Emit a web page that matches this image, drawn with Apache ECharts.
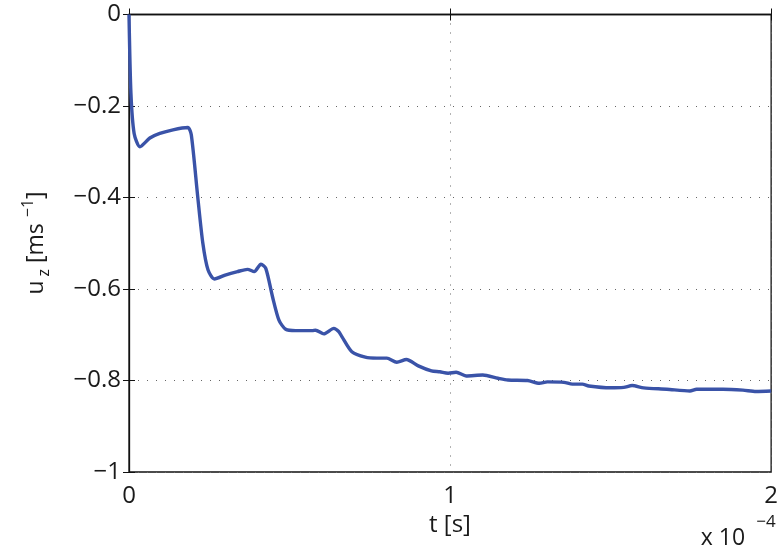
<!DOCTYPE html>
<html><head><meta charset="utf-8">
<script src="https://cdn.jsdelivr.net/npm/echarts@6/dist/echarts.min.js"></script>
<style>html,body{margin:0;padding:0;background:#fff}#c{width:781px;height:552px}</style>
</head><body><div id="c"></div>
<script>
// time in units of 1e-4 s
const timeE4 = [0, 0.006, 0.016, 0.034, 0.065, 0.096, 0.137, 0.183, 0.194, 0.214, 0.230, 0.246, 0.266, 0.302, 0.338, 0.369, 0.390, 0.411, 0.426, 0.447, 0.467, 0.488, 0.519, 0.571, 0.581, 0.607, 0.638, 0.653, 0.663, 0.694, 0.736, 0.772, 0.803, 0.834, 0.864, 0.901, 0.942, 0.968, 0.994, 1.019, 1.050, 1.102, 1.149, 1.180, 1.241, 1.278, 1.303, 1.355, 1.381, 1.412, 1.432, 1.499, 1.541, 1.567, 1.603, 1.675, 1.747, 1.768, 1.850, 1.912, 1.953, 2.0];
const uz = [0, -0.172, -0.26, -0.289, -0.27, -0.26, -0.252, -0.247, -0.263, -0.398, -0.5, -0.558, -0.578, -0.569, -0.562, -0.557, -0.562, -0.546, -0.555, -0.617, -0.668, -0.688, -0.691, -0.691, -0.690, -0.698, -0.686, -0.693, -0.704, -0.737, -0.749, -0.751, -0.751, -0.760, -0.754, -0.768, -0.779, -0.781, -0.784, -0.782, -0.79, -0.788, -0.795, -0.799, -0.800, -0.806, -0.803, -0.804, -0.808, -0.808, -0.812, -0.816, -0.815, -0.811, -0.816, -0.819, -0.823, -0.819, -0.819, -0.821, -0.824, -0.823];
const xTicks = [0, 1, 2];
const yTicks = [0, -0.2, -0.4, -0.6, -0.8, -1];

const font = 'Open Sans';
const txt = '#1a1a1a';
const fmtY = v => (Math.abs(v) < 1e-9 ? '0' : String(Math.round(v*10)/10).replace('-', '\u2212'));
const gridLine = {show: true, lineStyle: {color: '#666', width: 1, type: [1, 8]}};

const chart = echarts.init(document.getElementById('c'));
chart.setOption({
  animation: false,
  grid: {left: 129, right: 6, top: 14.5, bottom: 80, show: true, borderColor: '#111', borderWidth: 1.3, backgroundColor: 'transparent'},
  xAxis: [{
    type: 'value', min: xTicks[0], max: xTicks[xTicks.length-1], interval: 1,
    axisLine: {show: true, lineStyle: {color: '#111', width: 1.3}},
    axisTick: {show: true, inside: true, length: 6, lineStyle: {color: '#111'}},
    axisLabel: {fontFamily: font, fontSize: 24, color: txt, margin: 12, formatter: v => String(v)},
    splitLine: gridLine
  }, {
    type: 'value', position: 'top', min: 0, max: 2, interval: 1,
    axisLine: {show: false}, axisTick: {show: true, inside: true, length: 6, lineStyle: {color: '#111'}},
    axisLabel: {show: false}, splitLine: {show: false}
  }],
  yAxis: [{
    type: 'value', min: -1, max: 0, interval: 0.2,
    axisLine: {show: true, lineStyle: {color: '#111', width: 1.3}},
    axisTick: {show: true, inside: true, length: 6, lineStyle: {color: '#111'}},
    axisLabel: {fontFamily: font, fontSize: 24, color: txt, margin: 8, formatter: fmtY},
    splitLine: gridLine
  }, {
    type: 'value', position: 'right', min: -1, max: 0, interval: 0.2,
    axisLine: {show: false}, axisTick: {show: true, inside: true, length: 6, lineStyle: {color: '#111'}},
    axisLabel: {show: false}, splitLine: {show: false}
  }],
  series: [{
    type: 'line', xAxisIndex: 0, yAxisIndex: 0,
    data: timeE4.map((t, i) => [t, uz[i]]),
    showSymbol: false, smooth: 0.25,
    lineStyle: {color: '#3a53a8', width: 3.4},
    itemStyle: {color: '#3a53a8'}
  }],
  graphic: [
    {type: 'text', x: 450, y: 525, style: {text: 't [s]', fontFamily: font, fontSize: 24, fill: txt, align: 'center', verticalAlign: 'middle'}},
    {type: 'text', x: 36, y: 243, rotation: Math.PI/2, style: {
      text: '{a|u}{sub|z}{a| [ms }{sup|\u22121}{a|]}', align: 'center', verticalAlign: 'middle',
      rich: {
        a: {fontFamily: font, fontSize: 23, fill: txt, lineHeight: 32, verticalAlign: 'middle'},
        sub: {fontFamily: font, fontSize: 16, fill: txt, padding: [15, 0, 0, 4], verticalAlign: 'bottom'},
        sup: {fontFamily: font, fontSize: 16, fill: txt, padding: [0, 0, 15, 0], verticalAlign: 'top'}
      }}},
    {type: 'text', x: 723, y: 538, style: {text: 'x 10', fontFamily: font, fontSize: 23, fill: txt, align: 'center', verticalAlign: 'middle'}},
    {type: 'text', x: 766, y: 522, style: {text: '\u22124', fontFamily: font, fontSize: 17, fill: txt, align: 'center', verticalAlign: 'middle'}}
  ]
});
</script></body></html>
